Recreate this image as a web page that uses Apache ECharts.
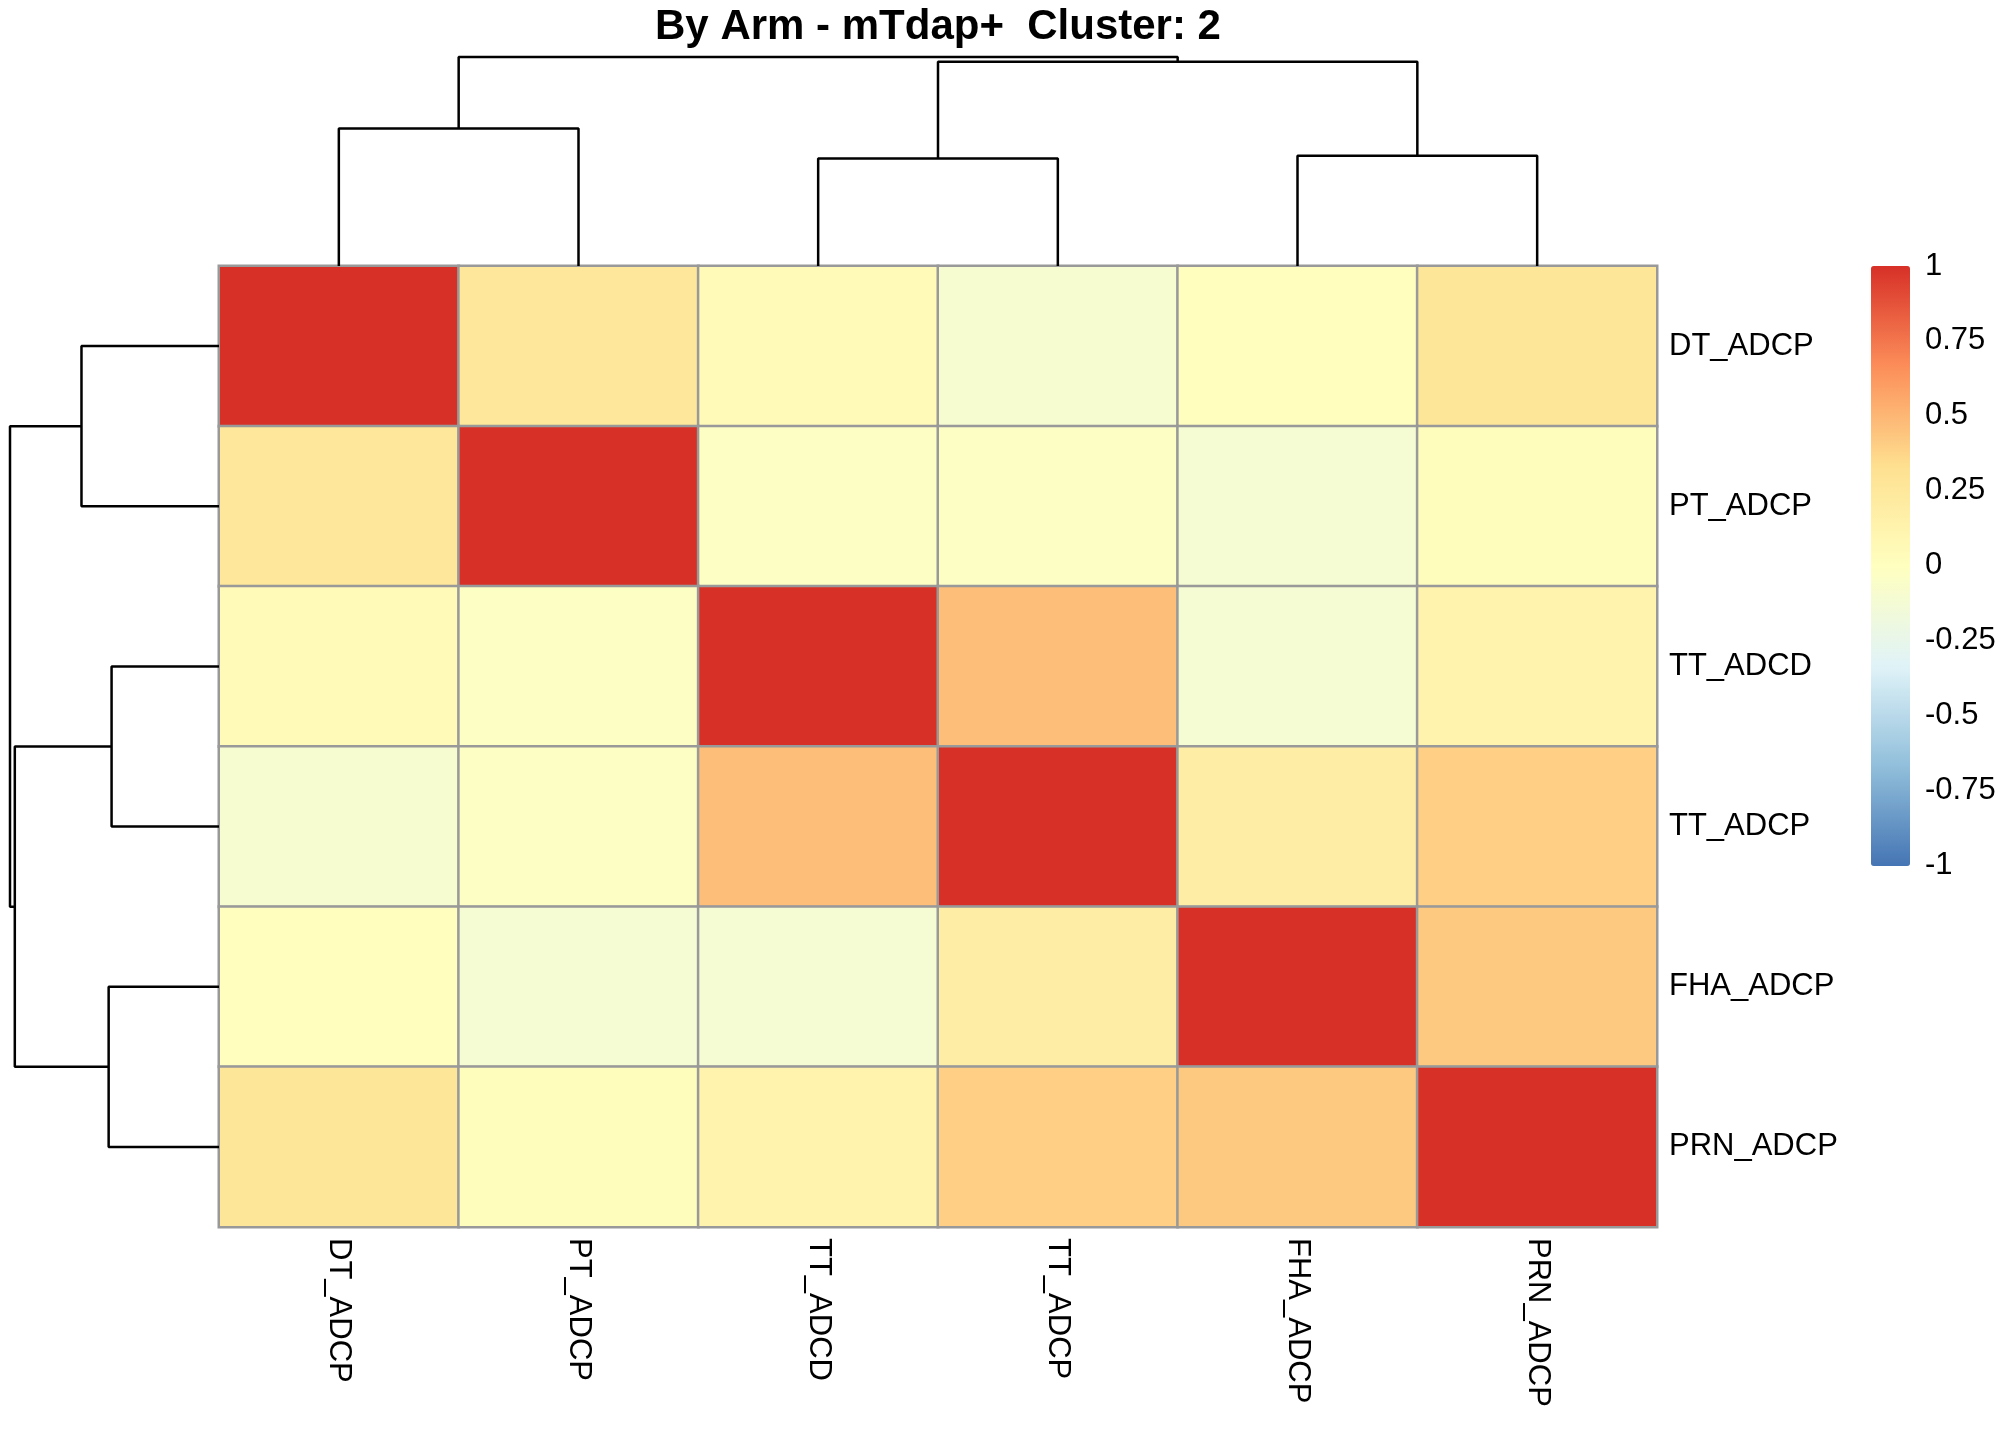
<!DOCTYPE html>
<html>
<head>
<meta charset="utf-8">
<script src="https://cdn.jsdelivr.net/npm/echarts@6/dist/echarts.min.js"></script>
<style>
  html, body { margin: 0; padding: 0; background: #fff; }
  #heatmap { width: 2016px; height: 1440px; }
</style>
</head>
<body>
<div id="heatmap"></div>
<script>
// labels in clustered order (same for rows and columns)
var labels = ["DT_ADCP", "PT_ADCP", "TT_ADCD", "TT_ADCP", "FHA_ADCP", "PRN_ADCP"];

// correlation values, one array per row
var corrDT  = [1.00, 0.26, 0.05, -0.10, 0.01, 0.27];
var corrPT  = [0.26, 1.00, -0.03, -0.03, -0.11, 0.02];
var corrTTD = [0.05, -0.03, 1.00, 0.47, -0.11, 0.13];
var corrTTP = [-0.10, -0.03, 0.47, 1.00, 0.19, 0.40];
var corrFHA = [0.01, -0.11, -0.11, 0.19, 1.00, 0.43];
var corrPRN = [0.27, 0.02, 0.13, 0.40, 0.43, 1.00];
var corrRows = [corrDT, corrPT, corrTTD, corrTTP, corrFHA, corrPRN];

// hclust-style merges: negative = leaf (1-based), positive = earlier merge (1-based)
var mergeA = [-1, -3, -5, 2, 1];
var mergeB = [-2, -4, -6, 3, 4];
var mergeHeight = [0.658, 0.514, 0.528, 0.977, 1.0];

// colour scale ticks
var scaleTicks = [-1, -0.75, -0.5, -0.25, 0, 0.25, 0.5, 0.75, 1];
var palette = ["#4575B4", "#91BFDB", "#E0F3F8", "#FFFFBF", "#FEE090", "#FC8D59", "#D73027"];

var chart = echarts.init(document.getElementById("heatmap"));

var cells = [];
corrRows.forEach(function (row, r) {
  row.forEach(function (v, c) {
    cells.push([c, r, v]);
  });
});

// position / height of a dendrogram node
function nodeOf(id) {
  if (id < 0) return { pos: -id - 1 + 0.5, h: 0 };
  return nodes[id - 1];
}
var nodes = [];
var branches = [];
for (var i = 0; i < mergeA.length; i++) {
  var a = nodeOf(mergeA[i]);
  var b = nodeOf(mergeB[i]);
  var h = mergeHeight[i];
  nodes.push({ pos: (a.pos + b.pos) / 2, h: h });
  branches.push([[a.pos, a.h], [a.pos, h], [b.pos, h], [b.pos, b.h]]);
}

function dendroSeries(idx, horizontal) {
  return branches.map(function (pts) {
    return {
      type: "line",
      xAxisIndex: idx,
      yAxisIndex: idx,
      symbol: "none",
      clip: false,
      silent: true,
      lineStyle: { color: "#000", width: 2.5 },
      data: pts.map(function (p) { return horizontal ? [p[1], p[0]] : p; })
    };
  });
}

var labelFont = "Liberation Sans";

var option = {
  animation: false,
  backgroundColor: "#fff",
  graphic: [
    {
      type: "text",
      x: 938,
      y: 27,
      style: {
        text: "By Arm - mTdap+  Cluster: 2",
        fontSize: 42,
        fontWeight: "bold",
        fontFamily: labelFont,
        fill: "#000",
        align: "center",
        verticalAlign: "middle"
      }
    }
  ],
  grid: [
    { left: 219, top: 266, width: 1438, height: 961 },
    { left: 219, top: 57, width: 1438, height: 209 },
    { left: 10, top: 266, width: 209, height: 961 },
    { left: 1871, top: 266, width: 39, height: 599 }
  ],
  xAxis: [
    {
      type: "category",
      gridIndex: 0,
      data: labels,
      position: "bottom",
      axisLine: { show: false },
      axisTick: { show: false },
      splitLine: { show: false },
      axisLabel: {
        rotate: -90,
        margin: 11,
        fontSize: 31,
        fontFamily: labelFont,
        color: "#000"
      }
    },
    { type: "value", gridIndex: 1, min: 0, max: 6, show: false },
    { type: "value", gridIndex: 2, min: 0, max: 1, inverse: true, show: false },
    { type: "value", gridIndex: 3, min: 0, max: 1, show: false }
  ],
  yAxis: [
    {
      type: "category",
      gridIndex: 0,
      data: labels,
      inverse: true,
      position: "right",
      axisLine: { show: false },
      axisTick: { show: false },
      splitLine: { show: false },
      axisLabel: {
        margin: 12,
        padding: [5, 0, 0, 0],
        fontSize: 31,
        fontFamily: labelFont,
        color: "#000"
      }
    },
    { type: "value", gridIndex: 1, min: 0, max: 1, show: false },
    { type: "value", gridIndex: 2, min: 0, max: 6, inverse: true, show: false },
    {
      type: "value",
      gridIndex: 3,
      min: scaleTicks[0],
      max: scaleTicks[scaleTicks.length - 1],
      interval: 0.25,
      position: "right",
      axisLine: { show: false },
      axisTick: { show: false },
      splitLine: { show: false },
      axisLabel: {
        margin: 15,
        padding: [8, 0, 0, 0],
        fontSize: 31,
        fontFamily: labelFont,
        color: "#000"
      }
    }
  ],
  visualMap: {
    type: "continuous",
    min: -1,
    max: 1,
    seriesIndex: 0,
    dimension: 2,
    calculable: false,
    orient: "vertical",
    left: 1871,
    top: 266,
    padding: 0,
    itemWidth: 39,
    itemHeight: 600,
    text: null,
    inRange: { color: palette }
  },
  series: [
    {
      type: "heatmap",
      xAxisIndex: 0,
      yAxisIndex: 0,
      data: cells,
      itemStyle: { borderColor: "#999999", borderWidth: 2.5 },
      emphasis: { disabled: true }
    }
  ].concat(dendroSeries(1, false), dendroSeries(2, true))
};

chart.setOption(option);
</script>
</body>
</html>
